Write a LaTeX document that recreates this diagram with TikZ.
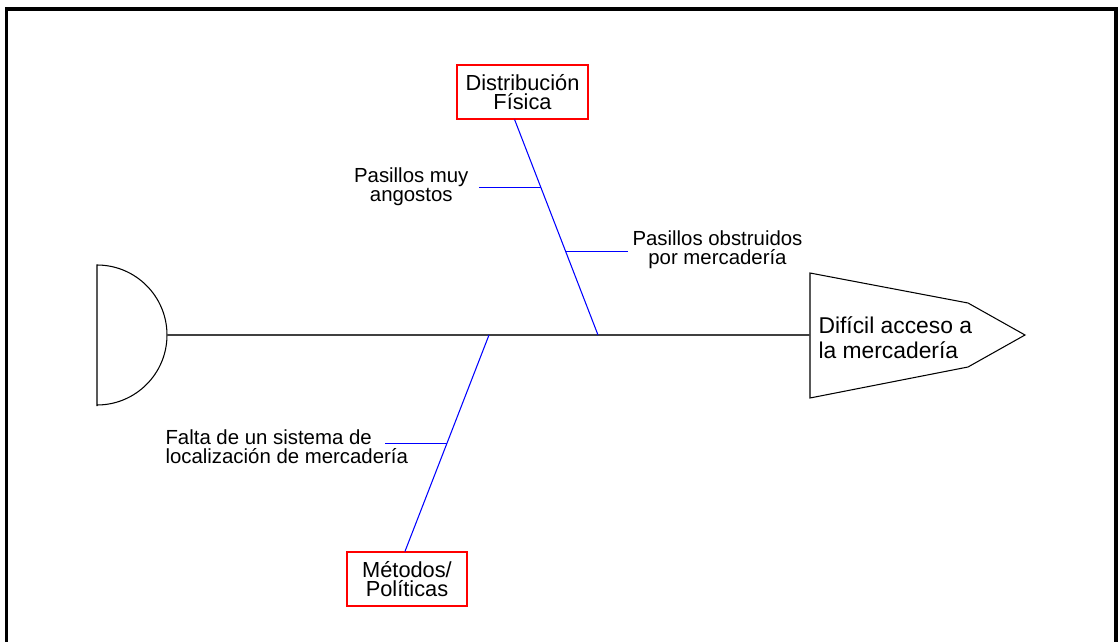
\documentclass[tikz,border=0pt]{standalone}
\usepackage{fontspec}
\setmainfont{Liberation Sans}
\usetikzlibrary{positioning,calc}

\begin{document}
\begin{tikzpicture}[x=0.02cm, y=-0.02cm, line width=0.6pt,
            causa/.style ={rectangle, draw=red, text=black, align=center, inner sep=0pt,
            minimum height=1.08cm, font=\fontsize{12.4}{11.2}\selectfont},
            hueso/.style ={draw=blue},
            espina/.style ={draw=black!75},
            etiqueta/.style ={align=center, inner sep=0pt, font=\fontsize{11.6}{11}\selectfont},
            marco/.style ={draw=black, line width=0.08cm}]
        \useasboundingbox (0,0) rectangle (1120,642);

        % marco exterior
        \draw[marco] (6.5,660) -- (6.5,9.5) -- (1115.5,9.5) -- (1115.5,660);

        %\node [estilo] (nombre) at (posicion) {};
        \node[causa, minimum width=2.62cm] (dist) at (522.5,92) {Distribución\\Física};
        \node[causa, minimum width=2.4cm] (met) at (407,579) {Métodos/\\Políticas};
        \node[anchor=west, align=left, inner sep=0pt, font=\fontsize{13}{14.2}\selectfont] (efecto) at (818,338) {Difícil acceso a\\la mercadería};

        % cabeza y cola del pescado
        \coordinate (cabeza) at (167,335);
        \coordinate (cola) at (810,335);
        \draw (97,406) -- (97,265) arc[start angle=-90, end angle=90, radius=70];
        \draw (cola) -- (810,273) -- (968,303) -- (1025,335) -- (968,367) -- (810,398) -- cycle;
        \path[espina] (cabeza) edge (cola);

        % espinas principales
        \coordinate (p1) at (598,335);
        \coordinate (p2) at (489,335);
        \coordinate (d1) at ($(dist.south west)!0.44!(dist.south east)$);
        \coordinate (d2) at ($(met.north west)!0.483!(met.north east)$);
        \path[hueso] (d1) edge (p1);
        \path[hueso] (p2) edge (d2);

        % causas secundarias
        \coordinate (b1) at ($(d1)!0.315!(p1)$);
        \coordinate (b2) at ($(d1)!0.611!(p1)$);
        \coordinate (b3) at ($(p2)!0.502!(d2)$);
        \node[etiqueta, anchor=east] (t1) at (469,187) {Pasillos muy\\angostos};
        \node[etiqueta, anchor=west] (t2) at (632,250) {Pasillos obstruidos\\por mercadería};
        \node[etiqueta, anchor=west, align=left] (t3) at (165,447) {Falta de un sistema de\\localización de mercadería};
        \path[hueso] (b1) edge ($(b1 -| t1.east)+(10,0)$);
        \path[hueso] (b2) edge ($(b2 -| t2.west)+(-4,0)$);
        \path[hueso] (b3) edge ($(b3)+(-62,0)$);
    \end{tikzpicture}
\end{document}
